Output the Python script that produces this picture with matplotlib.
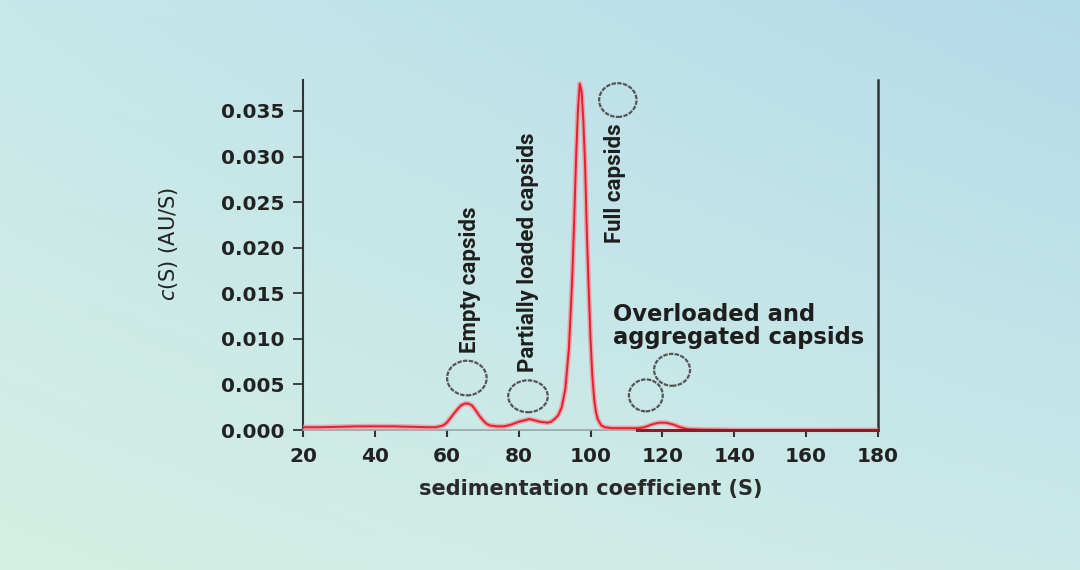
import numpy as np
import matplotlib
matplotlib.use("Agg")
import matplotlib.pyplot as plt
from matplotlib.patches import Ellipse

# ---- data ----
s_values = [20, 25, 30, 35, 40, 45, 50, 55, 57, 59, 60, 61, 62, 63, 64, 65, 66, 67, 68,
            69, 70, 71, 72, 74, 76, 78, 80, 82, 83, 84, 86, 88, 89, 90, 91, 92, 93, 94,
            94.5, 95, 95.5, 96, 96.5, 97, 97.5, 98, 98.5, 99, 99.5, 100, 100.5, 101, 101.5,
            102, 103, 104, 106, 110, 113, 115, 117, 119, 121, 123, 125, 127, 130, 140, 150,
            160, 170, 180]
c_values = [0.0003, 0.0003, 0.00035, 0.0004, 0.0004, 0.0004, 0.00035, 0.0003, 0.0003,
            0.0005, 0.0008, 0.0013, 0.0018, 0.0023, 0.0027, 0.0029, 0.0029, 0.0027,
            0.0022, 0.0016, 0.0011, 0.0007, 0.0005, 0.0004, 0.0004, 0.0006, 0.0009,
            0.0011, 0.0012, 0.0011, 0.0009, 0.0008, 0.0009, 0.0012, 0.0016, 0.0025,
            0.0045, 0.0090, 0.0130, 0.0175, 0.0235, 0.0300, 0.0350, 0.0380, 0.0372,
            0.0340, 0.0290, 0.0215, 0.0155, 0.0100, 0.0060, 0.0035, 0.0020, 0.0012,
            0.0005, 0.0003, 0.0002, 0.0002, 0.0002, 0.0003, 0.0006, 0.0008, 0.0008,
            0.0006, 0.0003, 0.0001, 0.00005, 0.0, 0.0, 0.0, 0.0, 0.0]
zero_line_s = [113, 180]
zero_line_c = [0.0, 0.0]

x_ticks = [20, 40, 60, 80, 100, 120, 140, 160, 180]
y_ticks = [0.000, 0.005, 0.010, 0.015, 0.020, 0.025, 0.030, 0.035]
y_tick_labels = ["0.000", "0.005", "0.010", "0.015", "0.020", "0.025", "0.030", "0.035"]

labels_rot = ["Empty capsids", "Partially loaded capsids", "Full capsids"]
label_overloaded = "Overloaded and\naggregated capsids"
x_label = "sedimentation coefficient (S)"
y_label = "$c$(S) (AU/S)"

# ---- figure ----
W, H, DPI = 1080, 570, 100
fig = plt.figure(figsize=(W / DPI, H / DPI), dpi=DPI)

# gradient background
bg = fig.add_axes([0, 0, 1, 1], zorder=-10)
tl = np.array([199, 231, 233]) / 255
tr = np.array([181, 218, 234]) / 255
bl = np.array([212, 239, 227]) / 255
br = np.array([203, 233, 232]) / 255
u = np.linspace(0, 1, 200)[None, :, None]
v = np.linspace(0, 1, 120)[:, None, None]
img = (1 - v) * ((1 - u) * tl + u * tr) + v * ((1 - u) * bl + u * br)
bg.imshow(img, aspect="auto", extent=[0, 1, 0, 1], origin="upper")
bg.axis("off")

ax = fig.add_axes([303 / W, 1 - 430 / H, 575 / W, 350 / H])
ax.set_facecolor("none")

ax.plot(s_values, c_values, color="#f0909c", lw=3.6, alpha=0.75, solid_capstyle="round", zorder=3)
ax.plot(s_values, c_values, color="#e5202e", lw=1.4, zorder=4)
ax.plot(zero_line_s, zero_line_c, color="#8a1d28", lw=2.2, zorder=5, clip_on=False)

ax.set_xlim(20, 180)
ax.set_ylim(0, 0.0384)
ax.set_xticks(x_ticks)
ax.set_yticks(y_ticks)
ax.set_yticklabels(y_tick_labels)

for lab in ax.get_xticklabels() + ax.get_yticklabels():
    lab.set_fontfamily("DejaVu Sans")
    lab.set_fontweight("bold")
    lab.set_fontsize(14.5)
    lab.set_color("#222222")

ax.tick_params(axis="y", direction="out", length=7, width=1.3, color="#333333", pad=6)
ax.tick_params(axis="x", direction="out", length=5, width=1.5, color="#333333", pad=7)

ax.spines["top"].set_visible(False)
ax.spines["left"].set_color("#333333")
ax.spines["left"].set_linewidth(1.5)
ax.spines["right"].set_color("#333333")
ax.spines["right"].set_linewidth(1.8)
ax.spines["bottom"].set_color("#9aa4a6")
ax.spines["bottom"].set_linewidth(1.2)

ax.set_xlabel(x_label, fontsize=15, fontweight="bold", family="DejaVu Sans", color="#2a2a2a")
ax.xaxis.set_label_coords(0.5, -0.14)
ax.set_ylabel(y_label, fontsize=15, family="DejaVu Sans", color="#222222")
ax.yaxis.set_label_coords(-0.214, 0.53)

# rotated peak labels
rot_pos = [(66.4, 0.0084), (82.6, 0.0064), (106.8, 0.0205)]
for txt, (xx, yy) in zip(labels_rot, rot_pos):
    ax.text(xx, yy, txt, rotation=90, ha="center", va="bottom", fontsize=16,
            family=["Roboto", "DejaVu Sans"], weight="bold", color="#1e1e1e", zorder=6)

ax.text(106.3, 0.0139, label_overloaded, ha="left", va="top", fontsize=16.3,
        family="DejaVu Sans", weight="bold", color="#1e1e1e", linespacing=1.0, zorder=6)

# capsid icons (circles)
ellipses = [(65.6, 0.0057, 11.0, 0.0038), (82.6, 0.0037, 11.0, 0.0035),
            (107.6, 0.0362, 10.4, 0.0037), (115.4, 0.0038, 9.4, 0.0035),
            (122.7, 0.0066, 10.0, 0.0035)]
for (xx, yy, ww, hh) in ellipses:
    ax.add_patch(Ellipse((xx, yy), ww, hh, fill=False, edgecolor="#555555",
                         lw=1.6, ls=(0, (2, 0.6)), zorder=6, clip_on=False))

fig.savefig("out.png", dpi=DPI)
